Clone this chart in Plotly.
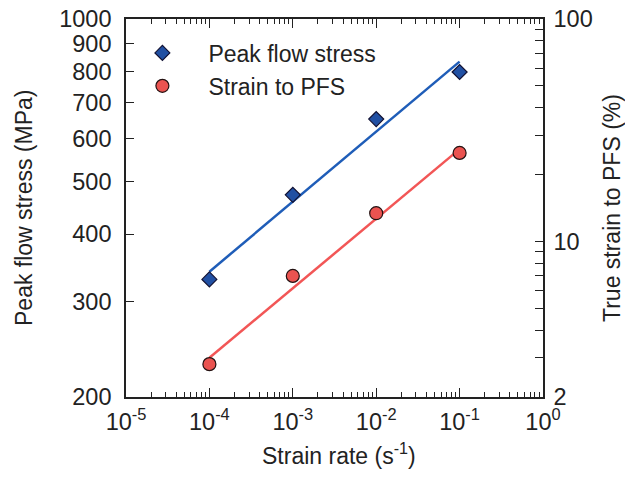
import plotly.graph_objects as go

# ---- data ----
strain_rate = [1e-4, 1e-3, 1e-2, 1e-1]
peak_flow_stress = [330, 473, 653, 798]        # MPa (left axis)
strain_to_pfs = [2.81, 7.0, 13.4, 25.0]        # % (right axis)

fit_rate = [1e-4, 1e-1]
stress_fit = [341, 834]
strain_fit = [3.0, 26.0]

x_tickvals = [1e-5, 1e-4, 1e-3, 1e-2, 1e-1, 1]
x_ticktext = ["10<sup>-5</sup>", "10<sup>-4</sup>", "10<sup>-3</sup>",
              "10<sup>-2</sup>", "10<sup>-1</sup>", "10<sup>0</sup>"]
y_tickvals = [200, 300, 400, 500, 600, 700, 800, 900, 1000]
y2_tickvals = [2, 10, 100]
y2_minor = [3, 4, 5, 6, 7, 8, 9, 20, 30, 40, 50, 60, 70, 80, 90]
x_minor = [m * 10.0 ** e for e in range(-5, 0) for m in range(2, 10)]

FONT = "Liberation Sans, Arial, sans-serif"
INK = "#222222"
BLUE = "#1f5db8"
BLUE_FILL = "#2150a3"
RED = "#f25656"
RED_FILL = "#ea5350"
TICK_SIZE = 23.5
TITLE_SIZE = 23

fig = go.Figure()

fig.add_trace(go.Scatter(x=fit_rate, y=stress_fit, mode="lines",
                         line=dict(color=BLUE, width=2.5), showlegend=False,
                         hoverinfo="skip"))
fig.add_trace(go.Scatter(x=fit_rate, y=strain_fit, mode="lines", yaxis="y2",
                         line=dict(color=RED, width=2.5), showlegend=False,
                         hoverinfo="skip"))
fig.add_trace(go.Scatter(x=strain_rate, y=peak_flow_stress, mode="markers",
                         name="Peak flow stress",
                         marker=dict(symbol="diamond", size=11.5, color=BLUE_FILL,
                                     line=dict(color="#111133", width=1.2))))
fig.add_trace(go.Scatter(x=strain_rate, y=strain_to_pfs, mode="markers",
                         name="Strain to PFS", yaxis="y2",
                         marker=dict(symbol="circle", size=13, color=RED_FILL,
                                     line=dict(color="#221111", width=1.2))))

axis_common = dict(showgrid=False, zeroline=False, showline=True,
                   linecolor=INK, linewidth=1.6, ticks="inside",
                   tickcolor=INK, tickwidth=1.4, automargin=False,
                   ticklabeloverflow="allow",
                   tickfont=dict(family=FONT, size=TICK_SIZE, color=INK))

title_font = dict(family=FONT, size=TITLE_SIZE, color=INK)

# page body adds an 8px margin, so the figure is sized to fit the window
fig.update_layout(
    width=625, height=472,
    margin=dict(l=118, r=90, t=11, b=83),
    paper_bgcolor="white", plot_bgcolor="white",
    font=dict(family=FONT, size=TITLE_SIZE, color=INK),
    xaxis=dict(type="log", range=[-5, 0], tickmode="array",
               tickvals=x_tickvals, ticktext=x_ticktext, ticklen=9,
               mirror="ticks", ticklabelstandoff=3,
               minor=dict(tickmode="array", tickvals=x_minor, ticks="inside",
                          ticklen=5, tickwidth=1.2, tickcolor=INK),
               **axis_common),
    yaxis=dict(type="log", range=[2.30103, 3], tickmode="array",
               tickvals=y_tickvals, ticklen=8, ticklabelstandoff=8,
               **axis_common),
    yaxis2=dict(type="log", range=[0.30103, 2], overlaying="y", side="right",
                tickmode="array", tickvals=y2_tickvals, ticklen=8,
                ticklabelstandoff=4,
                minor=dict(tickmode="array", tickvals=y2_minor, ticks="inside",
                           ticklen=8, tickwidth=1.2, tickcolor=INK),
                **axis_common),
    legend=dict(x=-0.023, y=0.967, xanchor="left", yanchor="top",
                bgcolor="rgba(0,0,0,0)", itemwidth=82,
                font=dict(family=FONT, size=TITLE_SIZE, color=INK),
                tracegroupgap=0),
    annotations=[
        dict(text="Strain rate (s<sup>-1</sup>)", xref="paper", yref="paper",
             x=0.511, y=-0.151, xanchor="center", yanchor="middle",
             showarrow=False, font=title_font),
        dict(text="Peak flow stress (MPa)", xref="paper", yref="paper",
             x=-0.2446, y=0.5, xanchor="center", yanchor="middle",
             textangle=-90, showarrow=False, font=title_font),
        dict(text="True strain to PFS (%)", xref="paper", yref="paper",
             x=1.1655, y=0.5, xanchor="center", yanchor="middle",
             textangle=-90, showarrow=False, font=title_font),
    ],
)

fig.write_html("out.html")
